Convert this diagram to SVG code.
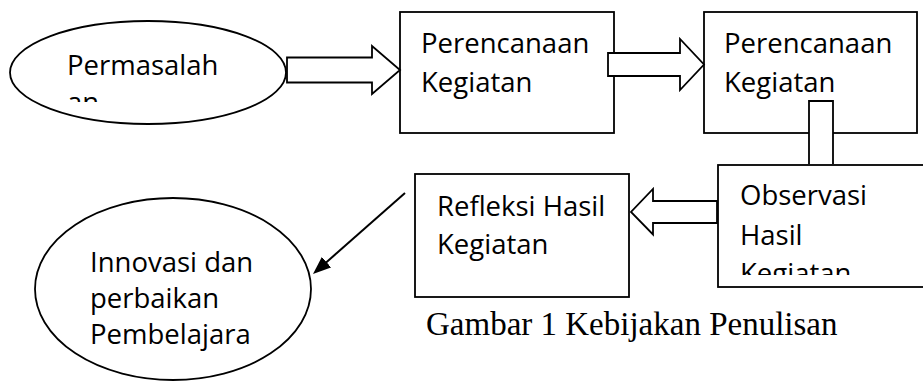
<svg xmlns="http://www.w3.org/2000/svg" width="923" height="383" viewBox="0 0 923 383">
  <style>
    .shape { fill: #ffffff; stroke: #000000; stroke-width: 1.8; }
    .label { font-family: "Open Sans", "Liberation Sans", sans-serif; font-size: 27.5px; fill: #000000; }
    .caption { font-family: "Liberation Serif", "DejaVu Serif", serif; font-size: 33px; fill: #000000; }
    .block { fill: #ffffff; stroke: #000000; stroke-width: 1.8; stroke-linejoin: miter; }
    .line { fill: none; stroke: #000000; stroke-width: 2; }
  </style>
  <defs>
    <marker id="arrowhead" viewBox="0 0 18 14" refX="8" refY="7" markerWidth="18" markerHeight="14" markerUnits="userSpaceOnUse" orient="auto">
      <path d="M0,0 L18,7 L0,14 z" fill="#000000"/>
    </marker>
    <clipPath id="clip-permasalahan">
      <rect x="30" y="20" width="240" height="82"/>
    </clipPath>
    <clipPath id="clip-observasi">
      <rect x="720" y="166" width="203" height="109"/>
    </clipPath>
  </defs>
  <rect width="923" height="383" fill="#ffffff"/>

  <!-- Nodes -->
  <g id="permasalahan">
    <ellipse class="shape" cx="148" cy="72.5" rx="138" ry="51.5"/>
    <g clip-path="url(#clip-permasalahan)">
      <text class="label" x="67" y="75">Permasalah</text>
      <text class="label" x="67" y="112">an</text>
    </g>
  </g>

  <g id="perencanaan-1">
    <rect class="shape" x="400" y="12" width="214" height="121"/>
    <text class="label" x="421" y="53">Perencanaan</text>
    <text class="label" x="421" y="92">Kegiatan</text>
  </g>

  <g id="perencanaan-2">
    <rect class="shape" x="704" y="12" width="213" height="121"/>
    <text class="label" x="724" y="53">Perencanaan</text>
    <text class="label" x="724" y="92">Kegiatan</text>
  </g>

  <g id="refleksi">
    <rect class="shape" x="415" y="174" width="214" height="123"/>
    <text class="label" x="437" y="216">Refleksi Hasil</text>
    <text class="label" x="437" y="254">Kegiatan</text>
  </g>

  <g id="innovasi">
    <ellipse class="shape" cx="173" cy="289" rx="138" ry="91"/>
    <text class="label" x="90" y="272">Innovasi dan</text>
    <text class="label" x="90" y="308">perbaikan</text>
    <text class="label" x="90" y="344">Pembelajara</text>
  </g>

  <!-- Connectors -->
  <g id="connectors">
    <!-- block arrow: Permasalahan -> Perencanaan -->
    <path class="block" d="M287,57.5 H372 V46 L400,70 L372,94 V82.5 H287 Z"/>
    <!-- block arrow: Perencanaan -> Perencanaan -->
    <path class="block" d="M608,53 H680 V39 L704,64.5 L680,90 V76 H608 Z"/>
    <!-- downward bar: Perencanaan -> Observasi (lower end hidden under the box) -->
    <path class="block" d="M809,164 V101 H833 V164"/>
    <!-- block arrow: Observasi -> Refleksi -->
    <path class="block" d="M717,201 H653 V189 L631,212 L653,234.5 V223 H717 Z"/>
    <!-- thin arrow: Refleksi -> Innovasi -->
    <line class="line" x1="405" y1="193" x2="320.5" y2="267.4" marker-end="url(#arrowhead)"/>
  </g>

  <g id="observasi">
    <rect class="shape" x="718" y="165" width="220" height="122"/>
    <g clip-path="url(#clip-observasi)">
      <text class="label" x="740" y="205">Observasi</text>
      <text class="label" x="740" y="245">Hasil</text>
      <text class="label" x="740" y="283">Kegiatan</text>
    </g>
  </g>

  <!-- Figure caption -->
  <text class="caption" x="426" y="335">Gambar 1 Kebijakan Penulisan</text>
</svg>
